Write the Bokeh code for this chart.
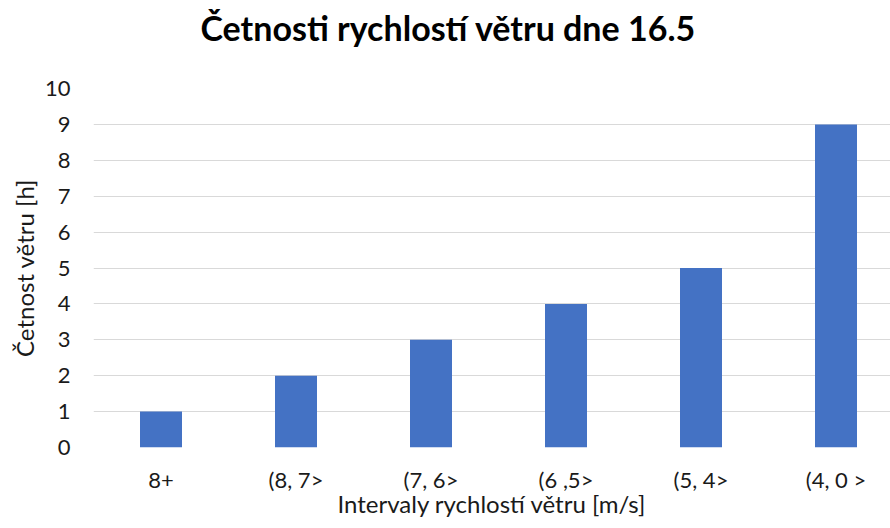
from bokeh.plotting import figure
from bokeh.models import Range1d, FixedTicker, Title
from bokeh.embed import file_html
from bokeh.resources import INLINE

# Wind-speed interval categories and hours counted in each
categories = ["8+", "(8, 7>", "(7, 6>", "(6 ,5>", "(5, 4>", "(4, 0 >"]
hours = [1, 2, 3, 4, 5, 9]
y_ticks = [0, 1, 2, 3, 4, 5, 6, 7, 8, 9, 10]

title_text = "Četnosti rychlostí větru dne 16.5"
x_label = "Intervaly rychlostí větru [m/s]"
y_label = "Četnost větru [h]"

FONT = "Lato"
BAR = "#4472C4"
GRID = "#d9d9d9"
TEXT = "#1a1a1a"

# each category occupies one unit; the frame shows slightly less than all six
positions = [i + 0.5 for i in range(len(categories))]
visible_units = 797 / 135

p = figure(
    width=890, height=528,
    x_range=Range1d(0, visible_units), y_range=Range1d(0, 10),
    output_backend="svg", toolbar_location=None,
    min_border_left=93, min_border_right=0, min_border_top=88, min_border_bottom=81,
)
p.title = None

# blank title used as a gap between the heading and the plot frame
gap = Title(text=" ", text_font_size="1px", standoff=38)
heading = Title(text=title_text, text_font=FONT, text_font_size="34px",
                text_font_style="bold", text_color="#000000",
                align="left", offset=107, standoff=0)
p.add_layout(gap, "above")
p.add_layout(heading, "above")

p.vbar(x=positions, top=hours, width=42 / 135, color=BAR, line_color=None)

p.outline_line_color = None
p.xgrid.grid_line_color = None
p.ygrid.grid_line_color = GRID
p.ygrid.grid_line_width = 1

p.yaxis.ticker = FixedTicker(ticks=y_ticks)
p.xaxis.ticker = FixedTicker(ticks=positions)
p.xaxis.major_label_overrides = {pos: lab for pos, lab in zip(positions, categories)}

for ax in (p.xaxis[0], p.yaxis[0]):
    ax.axis_line_color = None
    ax.major_tick_line_color = None
    ax.minor_tick_line_color = None
    ax.major_tick_out = 0
    ax.major_tick_in = 0
    ax.minor_tick_out = 0
    ax.minor_tick_in = 0
    ax.major_label_text_font = FONT
    ax.major_label_text_font_size = "22px"
    ax.major_label_text_color = TEXT
    ax.axis_label_text_font = FONT
    ax.axis_label_text_font_size = "24px"
    ax.axis_label_text_font_style = "normal"
    ax.axis_label_text_color = TEXT

p.xaxis.axis_label = x_label
p.yaxis.axis_label = y_label
p.yaxis.major_label_standoff = 23
p.xaxis.major_label_standoff = 18
p.yaxis.axis_label_standoff = 3
p.xaxis.axis_label_standoff = -7

open("out.html", "w").write(file_html(p, INLINE))
